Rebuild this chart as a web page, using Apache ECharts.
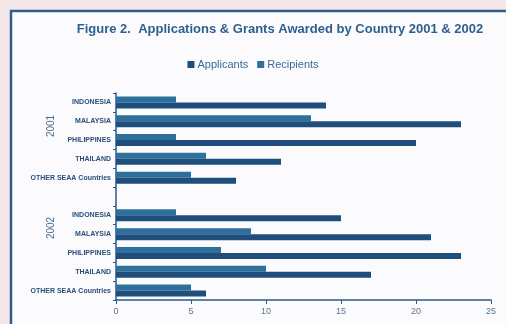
<!DOCTYPE html>
<html><head><meta charset="utf-8">
<script src="https://cdn.jsdelivr.net/npm/echarts@6/dist/echarts.min.js"></script>
<style>html,body{margin:0;padding:0;background:#f4e7e8;}#c{width:506px;height:324px;}</style>
</head><body><div id="c"></div>
<script>
const countries = ['INDONESIA','MALAYSIA','PHILIPPINES','THAILAND','OTHER SEAA Countries'];
const years = ['2001','2002'];
const applicants2001 = [14, 23, 20, 11, 8];
const recipients2001 = [4, 13, 4, 6, 5];
const applicants2002 = [15, 21, 23, 17, 6];
const recipients2002 = [4, 9, 7, 10, 5];
const xTicks = [0, 5, 10, 15, 20, 25];

const cats = countries.concat(['']).concat(countries);
const appData = applicants2001.concat(['-']).concat(applicants2002);
const recData = recipients2001.concat(['-']).concat(recipients2002);

const chart = echarts.init(document.getElementById('c'), null, {renderer:'canvas'});
const navy = '#2a5b8c';
chart.setOption({
  backgroundColor: '#f4e7e8',
  animation: false,
  title: {
    text: 'Figure 2.  Applications & Grants Awarded by Country 2001 & 2002',
    left: 275, top: 18, textAlign: 'center',
    textStyle: {fontFamily: 'Liberation Sans', fontWeight: 'bold', fontSize: 13, color: '#2f5f8e'}
  },
  legend: {
    data: ['Applicants', 'Recipients'],
    left: 'center', top: 54, itemWidth: 7, itemHeight: 7, itemGap: 9,
    icon: 'rect',
    textStyle: {fontFamily: 'Liberation Sans', fontSize: 11, color: '#3a6a96', padding:[0,0,0,-2]}
  },
  grid: {left: 116, right: 15, top: 93, bottom: 24},
  xAxis: {
    type: 'value', min: xTicks[0], max: xTicks[xTicks.length-1], interval: 5,
    axisLine: {show: true, lineStyle: {color: navy, width: 1.5}},
    axisTick: {show: true, length: 4, lineStyle: {color: navy}},
    splitLine: {show: false},
    axisLabel: {fontFamily: 'Liberation Sans', fontSize: 9, color: '#5a7590', margin: 7}
  },
  yAxis: {
    type: 'category', data: cats, inverse: true,
    axisLine: {show: true, lineStyle: {color: navy, width: 1.5}},
    axisTick: {show: true, length: 3, lineStyle: {color: navy}},
    axisLabel: {fontFamily: 'Liberation Sans', fontWeight: 'bold', fontSize: 7, color: '#2a4f7a', margin: 5}
  },
  series: [
    {name: 'Recipients', type: 'bar', data: recData, barWidth: 6, barGap: '0%',
     itemStyle: {color: '#2e6f9c'}},
    {name: 'Applicants', type: 'bar', data: appData, barWidth: 6, barGap: '0%',
     itemStyle: {color: '#1f4d7c'}}
  ],
  graphic: [
    {type: 'rect', shape: {x: 11, y: 11, width: 520, height: 330}, z: 100, silent: true,
     style: {fill: 'none', stroke: '#2d5e8e', lineWidth: 2.5}},
    {type: 'rect', shape: {x: 12, y: 12, width: 520, height: 330}, z: -1,
     style: {fill: '#fbfbfd'}},
    {type: 'text', x: 51, y: 126, rotation: Math.PI/2,
     style: {text: years[0], fontFamily: 'Liberation Sans', fontSize: 10, fill: '#4a6a8a', align: 'center', verticalAlign: 'middle'}},
    {type: 'text', x: 51, y: 228, rotation: Math.PI/2,
     style: {text: years[1], fontFamily: 'Liberation Sans', fontSize: 10, fill: '#4a6a8a', align: 'center', verticalAlign: 'middle'}}
  ]
});
</script></body></html>
